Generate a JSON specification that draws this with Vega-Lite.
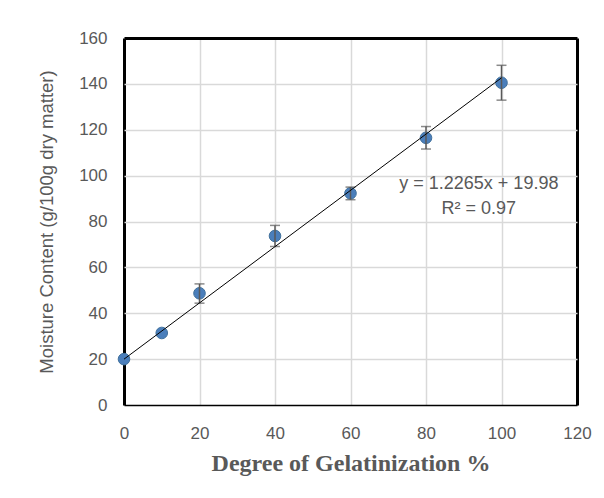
{
  "$schema": "https://vega.github.io/schema/vega-lite/v6.json",
  "width": 453,
  "height": 367,
  "autosize": "none",
  "padding": {"left": 124, "top": 38, "right": 27, "bottom": 93},
  "background": "white",
  "config": {
    "view": {"stroke": null},
    "axis": {
      "labelFont": "Liberation Sans",
      "labelFontSize": 17,
      "labelColor": "#595959",
      "labelFlush": false,
      "ticks": false,
      "domain": false
    }
  },
  "datasets": {
    "pts": [
      {"x": 0, "y": 20.0},
      {"x": 10, "y": 31.4},
      {"x": 20, "y": 48.7},
      {"x": 40, "y": 73.7},
      {"x": 60, "y": 92.3},
      {"x": 80, "y": 116.5},
      {"x": 100, "y": 140.5}
    ],
    "err": [
      {"x": 20, "lo": 44.4, "hi": 52.8},
      {"x": 40, "lo": 69.1, "hi": 78.3},
      {"x": 60, "lo": 89.5, "hi": 95.0},
      {"x": 80, "lo": 111.6, "hi": 121.4},
      {"x": 100, "lo": 132.9, "hi": 148.1}
    ],
    "trend": [
      {"x": 0, "y": 19.98},
      {"x": 100, "y": 142.63}
    ],
    "labels": [
      {"x": 94, "y": 96.5, "t": "y = 1.2265x + 19.98"},
      {"x": 94, "y": 85.6, "t": "R² = 0.97"}
    ]
  },
  "layer": [
    {
      "data": {"name": "pts"},
      "mark": {"type": "point", "filled": true, "size": 135, "color": "#4a7ebb", "stroke": "#41719c", "strokeWidth": 1, "opacity": 1},
      "encoding": {
        "x": {
          "field": "x", "type": "quantitative",
          "scale": {"domain": [0, 120], "nice": false},
          "axis": {
            "values": [0, 20, 40, 60, 80, 100, 120],
            "gridColor": {"condition": {"test": "datum.value === 0 || datum.value === 120", "value": "black"}, "value": "#d9d9d9"},
            "gridWidth": {"condition": {"test": "datum.value === 0 || datum.value === 120", "value": 3}, "value": 1.5},
            "labelPadding": 20,
            "title": "Degree of Gelatinization %",
            "titleFont": "Liberation Serif",
            "titleFontSize": 24,
            "titleFontWeight": "bold",
            "titleColor": "#595959",
            "titlePadding": 10
          }
        },
        "y": {
          "field": "y", "type": "quantitative",
          "scale": {"domain": [0, 160], "nice": false},
          "axis": {
            "values": [0, 20, 40, 60, 80, 100, 120, 140, 160],
            "gridColor": {"condition": {"test": "datum.value === 0 || datum.value === 160", "value": "black"}, "value": "#d9d9d9"},
            "gridWidth": {"condition": {"test": "datum.value === 160", "value": 3}, "value": 1.5},
            "labelPadding": 17,
            "title": "Moisture Content (g/100g dry matter)",
            "titleFont": "Liberation Sans",
            "titleFontSize": 18.5,
            "titleFontWeight": "normal",
            "titleColor": "#595959",
            "titlePadding": 22
          }
        }
      }
    },
    {
      "data": {"name": "err"},
      "mark": {"type": "rule", "color": "#595959", "strokeWidth": 1.5},
      "encoding": {
        "x": {"field": "x", "type": "quantitative"},
        "y": {"field": "lo", "type": "quantitative"},
        "y2": {"field": "hi"}
      }
    },
    {
      "data": {"name": "err"},
      "mark": {"type": "tick", "orient": "horizontal", "color": "#595959", "size": 10, "thickness": 1.5},
      "encoding": {
        "x": {"field": "x", "type": "quantitative"},
        "y": {"field": "lo", "type": "quantitative"}
      }
    },
    {
      "data": {"name": "err"},
      "mark": {"type": "tick", "orient": "horizontal", "color": "#595959", "size": 10, "thickness": 1.5},
      "encoding": {
        "x": {"field": "x", "type": "quantitative"},
        "y": {"field": "hi", "type": "quantitative"}
      }
    },
    {
      "data": {"name": "trend"},
      "mark": {"type": "line", "color": "black", "strokeWidth": 1},
      "encoding": {
        "x": {"field": "x", "type": "quantitative"},
        "y": {"field": "y", "type": "quantitative"}
      }
    },
    {
      "data": {"name": "labels"},
      "mark": {"type": "text", "font": "Liberation Sans", "fontSize": 18, "color": "#595959", "align": "center", "baseline": "middle"},
      "encoding": {
        "x": {"field": "x", "type": "quantitative"},
        "y": {"field": "y", "type": "quantitative"},
        "text": {"field": "t"}
      }
    }
  ]
}
